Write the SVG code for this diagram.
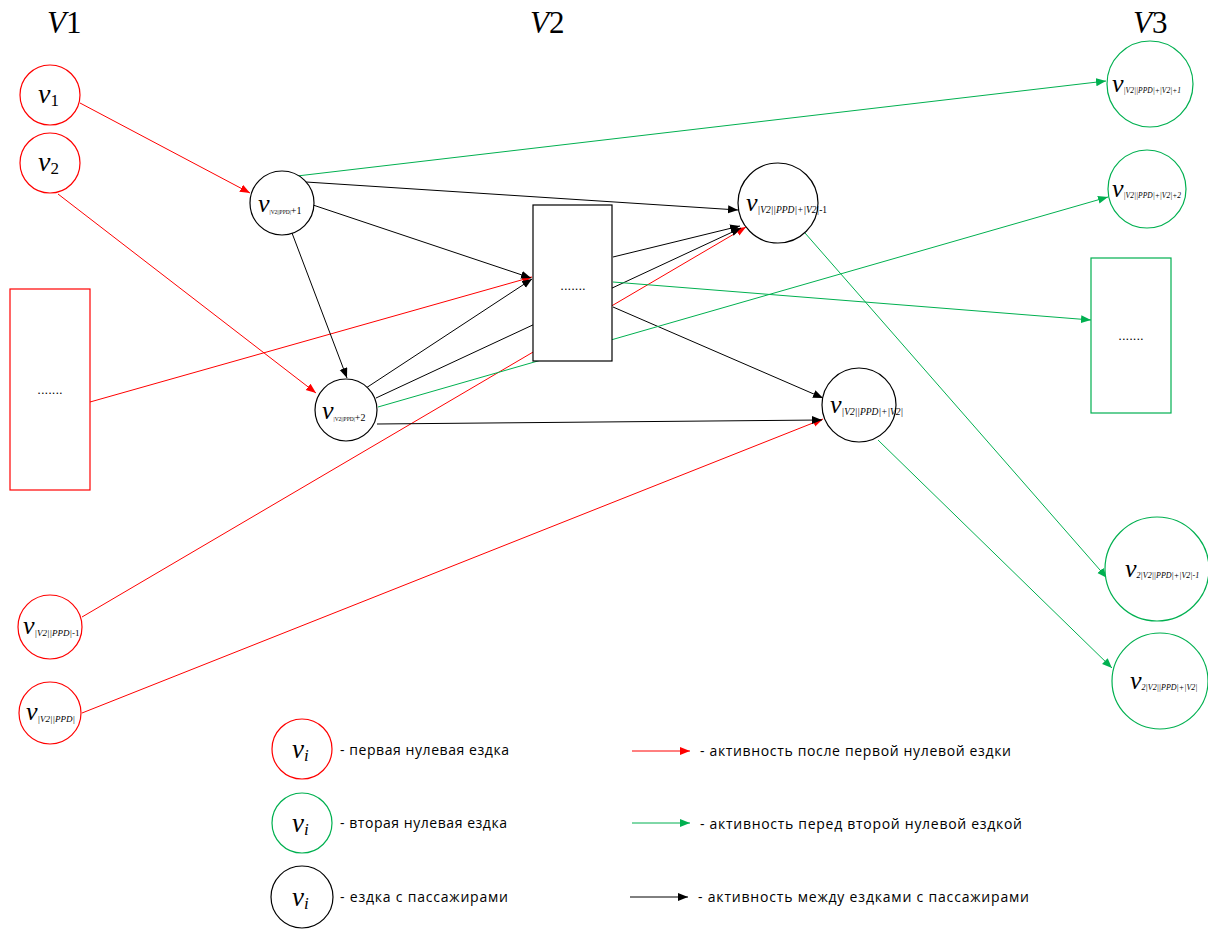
<svg xmlns="http://www.w3.org/2000/svg" width="1208" height="929" viewBox="0 0 1208 929">
<style>
.r{fill:#fff;stroke:#FF0000;stroke-width:1.2}
.g{fill:#fff;stroke:#00B050;stroke-width:1.2}
.k{fill:#fff;stroke:#000;stroke-width:1.2}
.er{stroke:#FF0000;stroke-width:1;fill:none;marker-end:url(#ar)}
.eg{stroke:#00B050;stroke-width:1;fill:none;marker-end:url(#ag)}
.ek{stroke:#000;stroke-width:1;fill:none;marker-end:url(#ak)}
.m{font-family:"Liberation Serif",serif;font-style:italic;fill:#000}
.hd{font-family:"Liberation Serif",serif;font-size:31px;fill:#000}
.dots{font-family:"Liberation Sans",sans-serif;font-size:13px;fill:#000;text-anchor:middle}
.lg{font-family:"Open Sans","Liberation Sans",sans-serif;font-size:14px;fill:#000}
</style>
<defs>
<marker id="ar" markerUnits="userSpaceOnUse" markerWidth="11" markerHeight="9" refX="10" refY="4" orient="auto"><path d="M0,0 L10,4 L0,8 z" fill="#FF0000"/></marker>
<marker id="ag" markerUnits="userSpaceOnUse" markerWidth="11" markerHeight="9" refX="10" refY="4" orient="auto"><path d="M0,0 L10,4 L0,8 z" fill="#00B050"/></marker>
<marker id="ak" markerUnits="userSpaceOnUse" markerWidth="11" markerHeight="9" refX="10" refY="4" orient="auto"><path d="M0,0 L10,4 L0,8 z" fill="#000"/></marker>
</defs>

<g id="headers">
<text class="hd" x="47" y="33"><tspan font-style="italic">V</tspan>1</text>
<text class="hd" x="530" y="33"><tspan font-style="italic">V</tspan>2</text>
<text class="hd" x="1133" y="33"><tspan font-style="italic">V</tspan>3</text>
</g>

<g id="connectors">
<line class="er" x1="80" y1="103" x2="250" y2="193"/>
<line class="er" x1="58" y1="194" x2="316" y2="393"/>
<line class="er" x1="90" y1="402" x2="532" y2="277"/>
<line class="er" x1="82" y1="617" x2="746" y2="227"/>
<line class="er" x1="82" y1="713" x2="823" y2="419"/>
<line class="ek" x1="306" y1="182" x2="738" y2="210"/>
<line class="ek" x1="313" y1="205" x2="531" y2="278"/>
<line class="ek" x1="292" y1="233" x2="347" y2="378"/>
<line class="ek" x1="366" y1="388" x2="532" y2="279"/>
<line class="ek" x1="376" y1="398" x2="741" y2="228"/>
<line class="ek" x1="377" y1="424" x2="822" y2="420"/>
<line class="ek" x1="613" y1="257" x2="740" y2="226"/>
<line class="ek" x1="613" y1="307" x2="823" y2="398"/>
<line class="eg" x1="297" y1="176" x2="1106" y2="81"/>
<line class="eg" x1="613" y1="282" x2="1091" y2="320"/>
<line class="eg" x1="378" y1="407" x2="1108" y2="197"/>
<line class="eg" x1="805" y1="233" x2="1107" y2="578"/>
<line class="eg" x1="878" y1="440" x2="1112" y2="668"/>
</g>

<g id="v1"><circle class="r" cx="50" cy="95" r="30"/><text class="m" x="38" y="103" font-size="28">v<tspan font-style="normal" font-size="17" dy="3">1</tspan></text></g>
<g id="v2"><circle class="r" cx="50" cy="163" r="30"/><text class="m" x="38" y="171" font-size="28">v<tspan font-style="normal" font-size="17" dy="3">2</tspan></text></g>
<g id="v1-rest"><rect class="r" x="10" y="289" width="80" height="201"/><text class="dots" x="50" y="394">.......</text></g>
<g id="v-ppd-1"><circle class="r" cx="50" cy="627" r="32"/><text class="m" x="23" y="634" font-size="26">v<tspan font-size="9" dy="2">|V2||PPD|</tspan><tspan font-style="normal" font-size="9">-1</tspan></text></g>
<g id="v-ppd"><circle class="r" cx="50" cy="713" r="31"/><text class="m" x="26" y="720" font-size="26">v<tspan font-size="9" dy="2">|V2||PPD|</tspan></text></g>

<g id="v-ppd+1"><circle class="k" cx="282" cy="203" r="32"/><text class="m" x="258" y="212" font-size="26">v<tspan font-style="normal" font-size="5.5" dy="2">|V2||PPD|</tspan><tspan font-style="normal" font-size="10">+1</tspan></text></g>
<g id="v-ppd+2"><circle class="k" cx="346" cy="410" r="31"/><text class="m" x="322" y="419" font-size="26">v<tspan font-style="normal" font-size="5.5" dy="2">|V2||PPD|</tspan><tspan font-style="normal" font-size="10">+2</tspan></text></g>
<g id="v2-rest"><rect class="k" x="533" y="205" width="79" height="156"/><text class="dots" x="573" y="290">.......</text></g>
<g id="v-ppd-v2-1"><circle class="k" cx="778" cy="203" r="40"/><text class="m" x="746" y="211" font-size="26">v<tspan font-size="9.5" dy="2">|V2||PPD|+|V2|</tspan><tspan font-style="normal" font-size="9.5">-1</tspan></text></g>
<g id="v-ppd-v2"><circle class="k" cx="859" cy="405" r="37"/><text class="m" x="830" y="413" font-size="26">v<tspan font-size="9.5" dy="2">|V2||PPD|+|V2|</tspan></text></g>

<g id="v3-1"><circle class="g" cx="1150" cy="84" r="43"/><text class="m" x="1112" y="92" font-size="26">v<tspan font-size="7.5" dy="1">|V2||PPD|+|V2|+1</tspan></text></g>
<g id="v3-2"><circle class="g" cx="1147" cy="189" r="39"/><text class="m" x="1112" y="197" font-size="26">v<tspan font-size="7.5" dy="1">|V2||PPD|+|V2|+2</tspan></text></g>
<g id="v3-rest"><rect class="g" x="1091" y="258" width="80" height="155"/><text class="dots" x="1131" y="340">.......</text></g>
<g id="v3-3"><circle class="g" cx="1157" cy="569" r="52"/><text class="m" x="1125" y="577" font-size="26">v<tspan font-size="8" dy="1">2|V2||PPD|+|V2|-1</tspan></text></g>
<g id="v3-4"><circle class="g" cx="1160" cy="681" r="48"/><text class="m" x="1130" y="689" font-size="26">v<tspan font-size="8" dy="1">2|V2||PPD|+|V2|</tspan></text></g>

<g id="legend-red-node"><circle class="r" cx="302" cy="749" r="30"/><text class="m" x="292" y="758" font-size="27">v<tspan font-size="17" dy="3">i</tspan></text><text class="lg" x="340" y="755" textLength="169" lengthAdjust="spacing">- первая нулевая ездка</text></g>
<g id="legend-green-node"><circle class="g" cx="302" cy="823" r="30"/><text class="m" x="292" y="832" font-size="27">v<tspan font-size="17" dy="3">i</tspan></text><text class="lg" x="340" y="828" textLength="167" lengthAdjust="spacing">- вторая нулевая ездка</text></g>
<g id="legend-black-node"><circle class="k" cx="302" cy="897" r="31"/><text class="m" x="292" y="906" font-size="27">v<tspan font-size="17" dy="3">i</tspan></text><text class="lg" x="340" y="902" textLength="168" lengthAdjust="spacing">- ездка с пассажирами</text></g>
<g id="legend-edges">
<line class="er" x1="632" y1="751" x2="690" y2="751"/>
<text class="lg" x="700" y="756" textLength="311" lengthAdjust="spacing">- активность после первой нулевой ездки</text>
<line class="eg" x1="632" y1="823" x2="690" y2="823"/>
<text class="lg" x="700" y="829" textLength="322" lengthAdjust="spacing">- активность перед второй нулевой ездкой</text>
<line class="ek" x1="630" y1="897" x2="688" y2="897"/>
<text class="lg" x="698" y="902" textLength="331" lengthAdjust="spacing">- активность между ездками с пассажирами</text>
</g>
</svg>
